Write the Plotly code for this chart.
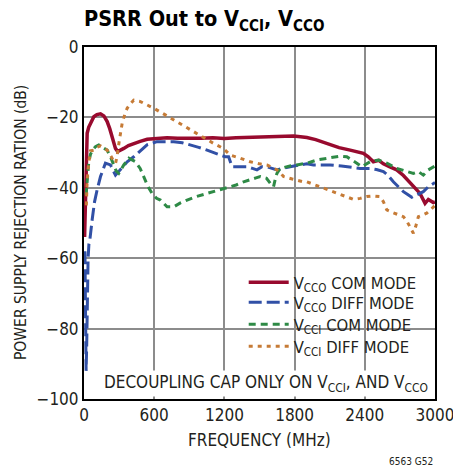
import plotly.graph_objects as go

# PSRR measured at the output, supply noise injected on VCCO / VCCI
vcco_com_f = [5, 12, 20, 27, 40, 55, 84, 110, 141, 170, 198, 220, 240, 269, 288, 310, 340, 380, 425, 480,
              540, 620, 710, 800, 909, 1000, 1100, 1200, 1300, 1400, 1500, 1600, 1700, 1791, 1850, 1905,
              1980, 2050, 2104, 2180, 2275, 2330, 2388, 2430, 2473, 2520, 2559, 2610, 2673, 2730, 2787,
              2830, 2872, 2915, 2943, 2986, 3000]
vcco_com_db = [-54, -40, -30, -24.5, -22.8, -21.7, -19.8, -19.2, -19, -19.6, -21.2, -23.2, -25.5, -28.8,
               -29.7, -29.4, -28.8, -28, -27.4, -26.8, -26.2, -26, -25.8, -25.9, -26, -25.9, -25.8, -26,
               -25.8, -25.7, -25.6, -25.5, -25.4, -25.3, -25.5, -25.7, -26.3, -27.1, -27.8, -28.6, -29.3,
               -29.8, -30.2, -31.2, -32.6, -32.2, -33.2, -34, -34.9, -36.5, -38.7, -40, -41.6, -44.4,
               -43.3, -44.2, -44]

vcco_diff_f = [8, 13, 18, 23, 28, 35, 42, 50, 70, 90, 112, 141, 183, 226, 269, 311, 369, 425, 482, 539,
               625, 700, 767, 840, 909, 980, 1052, 1120, 1165, 1208, 1236, 1265, 1330, 1393, 1440, 1478,
               1521, 1580, 1649, 1700, 1762, 1830, 1905, 1961, 2040, 2104, 2200, 2280, 2360, 2445, 2500,
               2559, 2600, 2644, 2690, 2730, 2770, 2801, 2844, 2900, 2943, 2986, 3000]
vcco_diff_db = [-58, -75, -92, -85, -72, -60, -56, -54.8, -49, -44, -40.6, -36.8, -33, -33.5, -36.4,
                -34.9, -32.6, -31.2, -29.5, -27.8, -26.9, -26.9, -26.9, -27.2, -27.8, -28.5, -29.3, -30.1,
                -30.7, -31.2, -31.2, -34, -34, -34, -34.5, -34.9, -34, -34.2, -34.9, -34.4, -34, -33.6,
                -33.2, -33.5, -33.4, -33.5, -33.8, -34.1, -34.5, -34.5, -34.8, -35.4, -36.5, -38.3,
                -39.8, -41.1, -42, -42.7, -42, -41.1, -39.7, -38.7, -38.5]

vcci_com_f = [18, 27, 40, 55, 75, 98, 126, 160, 198, 230, 254, 275, 297, 320, 340, 383, 440, 480, 510,
              545, 582, 620, 653, 710, 767, 824, 881, 960, 1052, 1120, 1193, 1250, 1300, 1364, 1421, 1470,
              1506, 1535, 1560, 1592, 1620, 1635, 1649, 1677, 1705, 1760, 1820, 1905, 1990, 2100, 2189,
              2246, 2290, 2332, 2374, 2445, 2516, 2588, 2673, 2758, 2815, 2858, 2900, 2943, 2986, 3000]
vcci_com_db = [-42, -37, -33, -30.5, -29.2, -28.3, -27.8, -28.5, -29.3, -31.5, -33.5, -35.2, -35.9,
               -34.5, -33.5, -31.6, -32.6, -34.5, -36.8, -39.5, -41.6, -43, -43.5, -45.4, -45.4, -44.3,
               -43.5, -42.5, -41.6, -41, -40.2, -39.7, -39.2, -38.3, -37.8, -37.2, -36.8, -37, -37.3,
               -38.7, -39.7, -37.5, -35.9, -34.5, -34.2, -33.8, -33.5, -33, -32.1, -31.5, -31, -31.2,
               -32, -33, -34, -32.6, -32.1, -33, -34.5, -35.4, -35.9, -35.4, -36.4, -34.9, -34, -33.8]

vcci_diff_f = [20, 27, 40, 55, 84, 110, 141, 170, 198, 230, 254, 270, 283, 300, 326, 350, 369, 400, 425,
               482, 540, 596, 680, 767, 850, 937, 1020, 1108, 1190, 1250, 1336, 1421, 1500, 1564, 1620,
               1649, 1680, 1705, 1780, 1876, 1905, 1960, 2018, 2090, 2161, 2230, 2303, 2360, 2417, 2470,
               2531, 2560, 2588, 2644, 2690, 2730, 2760, 2787, 2815, 2835, 2858, 2890, 2929, 2960, 2986,
               3000]
vcci_diff_db = [-45, -37.8, -33, -29.5, -29.3, -28.5, -28.1, -28.7, -29.3, -31, -32.5, -33, -31,
                -27, -21.7, -19, -17.4, -16, -15.1, -15.5, -16.4, -17.4, -19, -20.7, -22.3, -24.1, -25.8,
                -27.4, -28.8, -30.7, -31.6, -32.6, -33.2, -33.5, -34.5, -34.9, -35.8, -36.8, -37.5,
                -38.3, -38.3, -39, -39.7, -40.6, -41.6, -42.5, -43.3, -43, -42.5, -42.3, -42.5, -44,
                -46.3, -47.1, -47.6, -48.2, -49.5, -51, -52.9, -51, -48.2, -47.8, -47.2, -46.3, -45.4, -45]

x_ticks = [0, 600, 1200, 1800, 2400, 3000]
y_ticks = [0, -20, -40, -60, -80, -100]

FONT = "Liberation Sans Narrow, DejaVu Sans Condensed, Arial Narrow, sans-serif"

series = [
    ("V<sub>CCO</sub> COM MODE", vcco_com_f, vcco_com_db, "#980A2E", 3.5, "solid"),
    ("V<sub>CCO</sub> DIFF MODE", vcco_diff_f, vcco_diff_db, "#3150A6", 3, "13px,5px"),
    ("V<sub>CCI</sub> COM MODE", vcci_com_f, vcci_com_db, "#2E8A46", 3, "7px,5px"),
    ("V<sub>CCI</sub> DIFF MODE", vcci_diff_f, vcci_diff_db, "#C67B36", 3, "4px,5px"),
]

# one legend per entry so the rows sit closer together than the default spacing
legend_ids = ["legend", "legend2", "legend3", "legend4"]
legend_tops = [0.3806, 0.3238, 0.2613, 0.1988]

fig = go.Figure()
for (name, f, db, color, width, dash), lid in zip(series, legend_ids):
    fig.add_trace(go.Scatter(x=f, y=db, mode="lines", name=name, legend=lid,
                             line=dict(color=color, width=width, dash=dash)))

legend_style = dict(x=0.455, xanchor="left", yanchor="top", bgcolor="rgba(0,0,0,0)",
                    borderwidth=0, font=dict(size=16.5), itemwidth=40)

fig.update_layout(
    width=453, height=469,
    margin=dict(l=83.5, r=18, t=47, b=70, autoexpand=False),
    paper_bgcolor="white", plot_bgcolor="white",
    font=dict(family=FONT, size=17, color="#231F20"),
    title=dict(text="<b>PSRR Out to V<sub>CCI</sub>, V<sub>CCO</sub></b>",
               font=dict(size=21.5, color="black"),
               x=0, xref="paper", xanchor="left",
               y=1 - 18.5 / 469, yref="container", yanchor="middle"),
    showlegend=True,
)
for lid, top in zip(legend_ids, legend_tops):
    fig.update_layout({lid: dict(legend_style, y=top)})

# white panel behind the legend block, hiding the grid there
fig.add_shape(type="rect", xref="paper", yref="paper", x0=0.4595, x1=0.9915,
              y0=0.108, y1=0.3807, layer="between", line_width=0, fillcolor="white")

fig.update_xaxes(range=[0, 3000], tickvals=x_ticks, ticks="", showgrid=True,
                 gridcolor="#8C8C8C", gridwidth=1.5, zeroline=False, automargin=False,
                 showline=True, linecolor="black", linewidth=2, mirror=True,
                 tickfont=dict(size=17), ticklabeloverflow="allow")
fig.update_yaxes(range=[-100, 0], tickvals=y_ticks, ticks="", showgrid=True,
                 gridcolor="#8C8C8C", gridwidth=1.5, zeroline=False, automargin=False,
                 showline=True, linecolor="black", linewidth=2, mirror=True,
                 tickfont=dict(size=17), ticklabeloverflow="allow")

fig.add_annotation(text="FREQUENCY (MHz)", xref="paper", yref="paper",
                   x=0.5, y=-41 / 352, xanchor="center", yanchor="middle",
                   showarrow=False, font=dict(size=17))
fig.add_annotation(text="POWER SUPPLY REJECTION RATION (dB)", xref="paper", yref="paper",
                   x=-63 / 351.5, y=0.5, xanchor="center", yanchor="middle",
                   textangle=-90, showarrow=False, font=dict(size=15.5))
fig.add_annotation(text="DECOUPLING CAP ONLY ON V<sub>CCI</sub>, AND V<sub>CCO</sub>",
                   xref="paper", yref="paper", x=0.985, y=16 / 352,
                   xanchor="right", yanchor="middle", showarrow=False,
                   bgcolor="white", font=dict(size=17))
fig.add_annotation(text="6563 G52", xref="paper", yref="paper",
                   x=1.0, y=-62 / 352, xanchor="right", yanchor="middle",
                   showarrow=False, font=dict(size=10))

fig.write_html("out.html")
